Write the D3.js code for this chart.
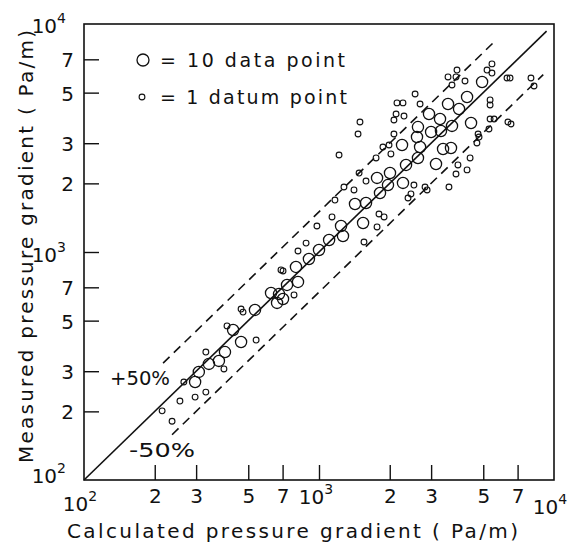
<!DOCTYPE html>
<html><head><meta charset="utf-8">
<script src="https://cdn.jsdelivr.net/npm/d3@7"></script>
<style>
body{margin:0;background:#fff}
text{font-family:"DejaVu Sans",sans-serif;fill:#111}
</style>
</head><body><svg id="c" width="575" height="546"></svg>
<script>
// Large circles (= 10 data points): calculated vs measured (Pa/m)
const bigCalc = [297,308,340,375,398,431,466,534,625,663,676,703,731,798,814,906,1000,1104,1265,1241,1423,1585,1540,1818,1766,1966,2277,2005,2346,2637,2256,2612,2692,2637,2938,2999,3304,3273,3540,3944,4266,4436,3372,3645,3147,4943,3681];
const bigMeas = [269,298,323,333,364,455,403,557,661,598,654,622,717,860,739,932,1020,1129,1175,1300,1624,1640,1340,1815,2113,1966,2009,2220,2409,2585,2946,3193,2888,3532,4030,3360,3394,3831,4457,4238,4786,3681,2831,2858,2432,5567,3573];
// Small circles (= 1 datum point)
const smallCalc = [215,237,256,266,297,330,330,394,406,466,475,540,783,689,703,1169,1409,1136,980,881,814,1554,1466,1494,1217,1871,1986,2084,2023,1749,1481,1585,1277,2535,2826,2884,2462,2392,1800,1892,1766,3540,3828,3866,3681,4181,2564,2147,2277,2692,2128,2300,2084,4753,4699,4395,3902,3828,4266,5445,5188,5445,6310,6501,7980,8222,5346,5346,5346,5559,5289,6368,6561,4797,3573];
const smallMeas = [201,181,222,269,231,243,364,307,474,562,545,411,648,834,826,1690,1871,1425,1300,1094,1010,1106,3293,3716,2663,2888,2946,3293,2692,2585,2220,2047,1928,1966,1928,1871,1797,1725,1468,1425,1288,5857,5857,6281,5400,5623,4932,4508,4508,4457,4030,3948,3793,3293,3006,2585,2409,2198,2291,6683,6281,6095,5796,5796,5796,5346,4645,4416,3831,3831,3463,3716,3643,3193,1928];
// Reference lines
const perfectLine = [100, 9300];
const upperLine = [217, 5560];   // measured = 1.5 x calculated
const lowerLine = [237, 9000];   // measured = calculated / 1.5
const upperFactor = 1.5, lowerFactor = 1/1.5;
// Ticks
const tickValues = [200,300,500,700,2000,3000,5000,7000,1000];
const tickLabels = ["2","3","5","7","2","3","5","7",""];
const decadeValues = [100,1000,10000];
const decadeExp = ["2","3","4"];

const svg = d3.select("#c");
const x = d3.scaleLog().domain([100,10000]).range([84,554]);
const y = d3.scaleLog().domain([100,10000]).range([480,24]);

// frame
svg.append("rect").attr("x",84).attr("y",24).attr("width",470).attr("height",456)
  .attr("fill","none").attr("stroke","#111").attr("stroke-width",1.6);

// axes with inner ticks
const xa = svg.append("g").attr("transform","translate(0,480)")
  .call(d3.axisBottom(x).tickValues(tickValues).tickSize(-15).tickPadding(4).tickFormat((d,i)=>tickLabels[i]));
const ya = svg.append("g").attr("transform","translate(84,0)")
  .call(d3.axisLeft(y).tickValues(tickValues).tickSize(-15).tickPadding(7).tickFormat((d,i)=>tickLabels[i]));
[xa,ya].forEach(g=>{
  g.select(".domain").remove();
  g.selectAll(".tick line").attr("stroke","#111").attr("stroke-width",1.4);
  g.selectAll(".tick text").attr("font-size",20).attr("font-family","DejaVu Sans").attr("fill","#111");
});
xa.selectAll(".tick text").attr("dy","0.95em");
ya.selectAll(".tick text").attr("dx","-3").attr("dy","0.38em");

// decade labels
function dec(xp, yp, e, anchor){
  const t = svg.append("text").attr("x",xp).attr("y",yp).attr("font-size",20).attr("text-anchor",anchor);
  t.append("tspan").text("10");
  t.append("tspan").attr("font-size",14).attr("dy",-10).text(e);
}
dec(x(decadeValues[0])-4, 511, decadeExp[0], "middle");
dec(x(decadeValues[1])-3, 504, decadeExp[1], "middle");
dec(x(decadeValues[2])-4, 514, decadeExp[2], "middle");
dec(66, y(decadeValues[0])+3, decadeExp[0], "end");
dec(66, y(decadeValues[1])+10, decadeExp[1], "end");
dec(66, y(decadeValues[2])+9, decadeExp[2], "end");

// lines
svg.append("line").attr("x1",x(perfectLine[0])).attr("y1",y(perfectLine[0]))
  .attr("x2",x(perfectLine[1])).attr("y2",y(perfectLine[1])).attr("stroke","#111").attr("stroke-width",1.6);
svg.append("line").attr("x1",x(upperLine[0])).attr("y1",y(upperLine[0]*upperFactor))
  .attr("x2",x(upperLine[1])).attr("y2",y(upperLine[1]*upperFactor))
  .attr("stroke","#111").attr("stroke-width",1.6).attr("stroke-dasharray","9,6");
svg.append("line").attr("x1",x(lowerLine[0])).attr("y1",y(lowerLine[0]*lowerFactor))
  .attr("x2",x(lowerLine[1])).attr("y2",y(lowerLine[1]*lowerFactor))
  .attr("stroke","#111").attr("stroke-width",1.6).attr("stroke-dasharray","9,6");

// points
svg.append("g").selectAll("circle").data(bigCalc).join("circle")
  .attr("cx",d=>x(d)).attr("cy",(d,i)=>y(bigMeas[i])).attr("r",5.6)
  .attr("fill","none").attr("stroke","#111").attr("stroke-width",1.3);
svg.append("g").selectAll("circle").data(smallCalc).join("circle")
  .attr("cx",d=>x(d)).attr("cy",(d,i)=>y(smallMeas[i])).attr("r",2.9)
  .attr("fill","none").attr("stroke","#111").attr("stroke-width",1.1);

// legend
svg.append("circle").attr("cx",143).attr("cy",60).attr("r",6).attr("fill","none").attr("stroke","#111").attr("stroke-width",1.3);
svg.append("circle").attr("cx",142).attr("cy",97).attr("r",2.9).attr("fill","none").attr("stroke","#111").attr("stroke-width",1.1);
svg.append("text").attr("x",160).attr("y",67).attr("font-size",19).attr("textLength",185).attr("lengthAdjust","spacing").text("= 10 data point");
svg.append("text").attr("x",160).attr("y",104).attr("font-size",19).attr("textLength",187).attr("lengthAdjust","spacing").text("= 1 datum point");

// band labels
svg.append("text").attr("x",110).attr("y",385).attr("font-size",20).attr("textLength",60).attr("lengthAdjust","spacingAndGlyphs").text("+50%");
svg.append("text").attr("x",129).attr("y",457).attr("font-size",20).attr("textLength",66).attr("lengthAdjust","spacingAndGlyphs").text("-50%");

// axis titles
svg.append("text").attr("x",67).attr("y",538).attr("font-size",20).attr("textLength",451).attr("lengthAdjust","spacing")
  .text("Calculated pressure gradient ( Pa/m)");
svg.append("text").attr("transform","translate(33,463) rotate(-90)").attr("font-size",20).attr("textLength",433).attr("lengthAdjust","spacing")
  .text("Measured pressure gradient ( Pa/m)");
</script></body></html>
